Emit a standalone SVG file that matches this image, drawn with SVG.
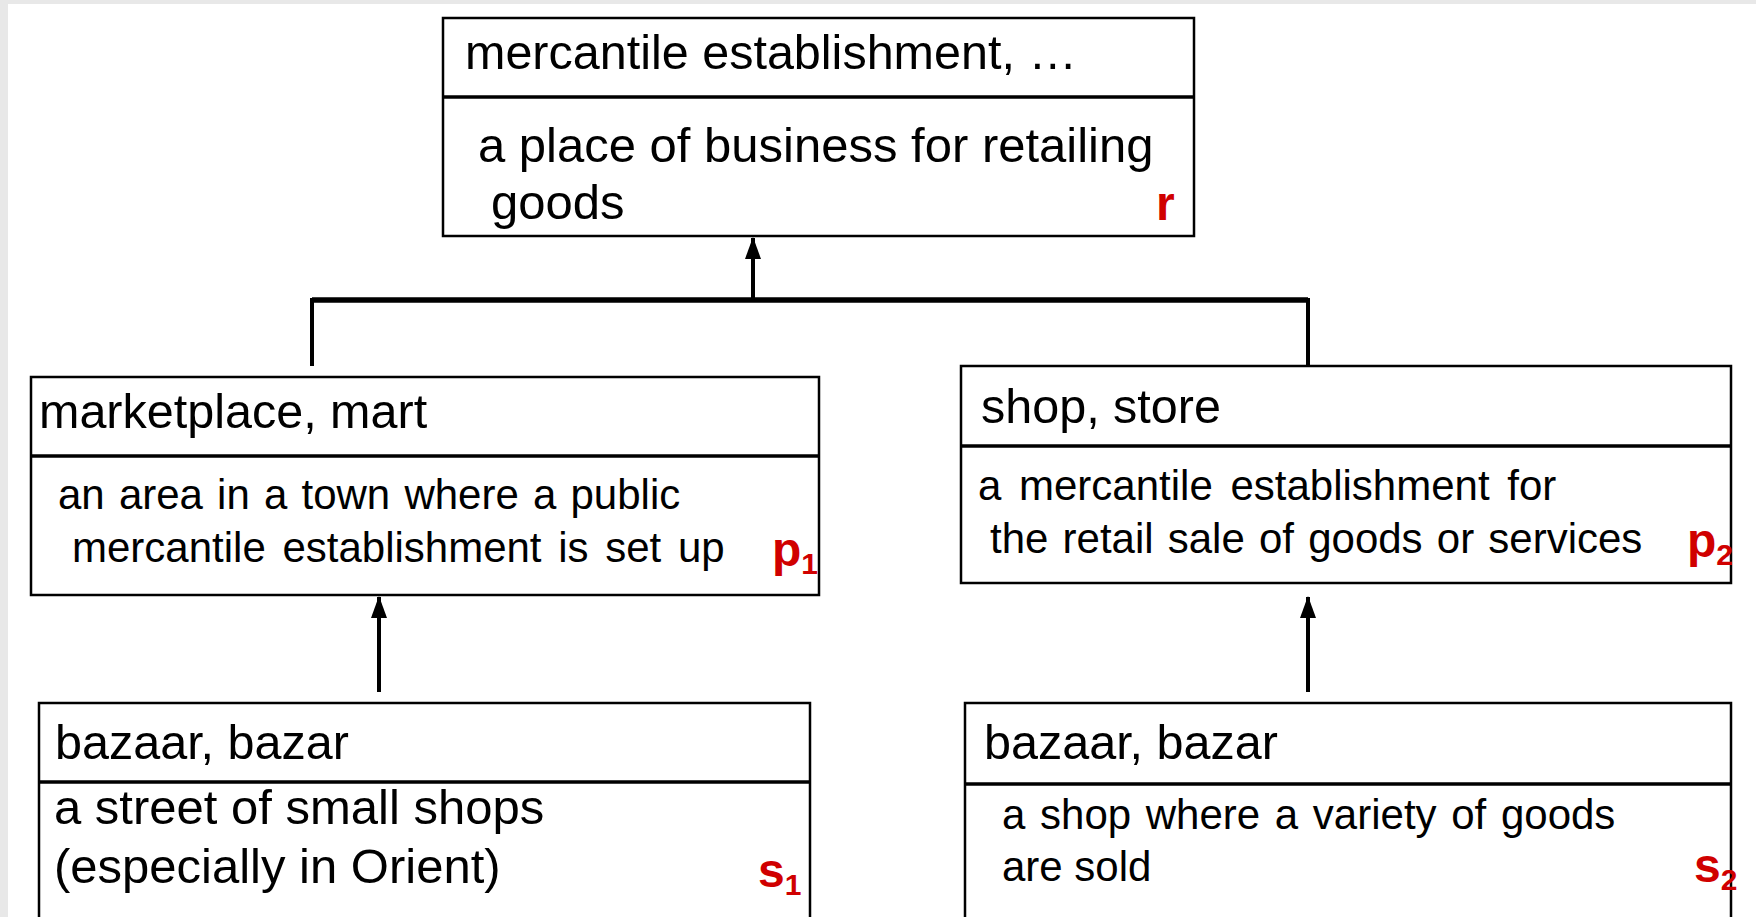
<svg xmlns="http://www.w3.org/2000/svg" width="1756" height="917" viewBox="0 0 1756 917">
  <defs>
    <style>
      .box { fill: #ffffff; stroke: #000000; stroke-width: 2.5; }
      .div { stroke: #000000; stroke-width: 3.5; }
      .t { font-family: "Liberation Sans", Arial, sans-serif; fill: #000000; }
      .title { font-size: 48.5px; }
      .desc { font-size: 49px; }
      .small { font-size: 42px; }
      .lab { font-family: "Liberation Sans", Arial, sans-serif; font-weight: bold; fill: #d00000; font-size: 48px; }
      .sub { font-size: 30px; }
      .conn { stroke: #000000; stroke-width: 4; fill: none; }
      .bar { stroke: #000000; stroke-width: 5.5; fill: none; }
    </style>
    <marker id="arrow" viewBox="0 0 22 16" refX="21" refY="8" markerWidth="22" markerHeight="16" markerUnits="userSpaceOnUse" orient="auto">
      <path d="M0,0 L22,8 L0,16 Z" fill="#000000"/>
    </marker>
  </defs>
  <rect x="0" y="0" width="1756" height="917" fill="#ffffff"/>
  <rect x="0" y="0" width="1756" height="4" fill="#e8e8e8"/>
  <rect x="0" y="0" width="8" height="917" fill="#e8e8e8"/>

  <g id="connectors">
    <line class="conn" x1="753" y1="300" x2="753" y2="238" marker-end="url(#arrow)"/>
    <line class="bar" x1="312" y1="300" x2="1308" y2="300"/>
    <line class="conn" x1="312" y1="298" x2="312" y2="366"/>
    <line class="conn" x1="1308" y1="298" x2="1308" y2="366"/>
    <line class="conn" x1="379" y1="692" x2="379" y2="597" marker-end="url(#arrow)"/>
    <line class="conn" x1="1308" y1="692" x2="1308" y2="597" marker-end="url(#arrow)"/>
  </g>

  <g id="node-r">
    <rect class="box" x="443" y="18" width="751" height="218"/>
    <line class="div" x1="443" y1="97" x2="1194" y2="97"/>
    <text class="t title" x="465" y="69">mercantile establishment, …</text>
    <text class="t desc" x="478" y="162">a place of business for retailing</text>
    <text class="t desc" x="491" y="219">goods</text>
    <text class="lab" x="1156" y="220">r</text>
  </g>

  <g id="node-p1">
    <rect class="box" x="31" y="377" width="788" height="218"/>
    <line class="div" x1="31" y1="456" x2="819" y2="456"/>
    <text class="t title" x="39" y="428">marketplace, mart</text>
    <text class="t small" x="58" y="509" word-spacing="2.5">an area in a town where a public</text>
    <text class="t small" x="72" y="562" word-spacing="5">mercantile establishment is set up</text>
    <text class="lab" x="772" y="566">p<tspan class="sub" dy="8">1</tspan></text>
  </g>

  <g id="node-p2">
    <rect class="box" x="961" y="366" width="770" height="217"/>
    <line class="div" x1="961" y1="446" x2="1731" y2="446"/>
    <text class="t title" x="981" y="423">shop, store</text>
    <text class="t small" x="978" y="500" word-spacing="6">a mercantile establishment for</text>
    <text class="t small" x="990" y="553" word-spacing="2.5">the retail sale of goods or services</text>
    <text class="lab" x="1687" y="557">p<tspan class="sub" dy="8">2</tspan></text>
  </g>

  <g id="node-s1">
    <rect class="box" x="39" y="703" width="771" height="240"/>
    <line class="div" x1="39" y1="782" x2="810" y2="782"/>
    <text class="t title" x="55" y="759">bazaar, bazar</text>
    <text class="t desc" x="54" y="824">a street of small shops</text>
    <text class="t desc" x="54" y="883">(especially in Orient)</text>
    <text class="lab" x="758" y="887">s<tspan class="sub" dy="8">1</tspan></text>
  </g>

  <g id="node-s2">
    <rect class="box" x="965" y="703" width="766" height="240"/>
    <line class="div" x1="965" y1="784" x2="1731" y2="784"/>
    <text class="t title" x="984" y="759">bazaar, bazar</text>
    <text class="t small" x="1002" y="829" word-spacing="3">a shop where a variety of goods</text>
    <text class="t small" x="1002" y="881">are sold</text>
    <text class="lab" x="1694" y="882">s<tspan class="sub" dy="8">2</tspan></text>
  </g>
</svg>
